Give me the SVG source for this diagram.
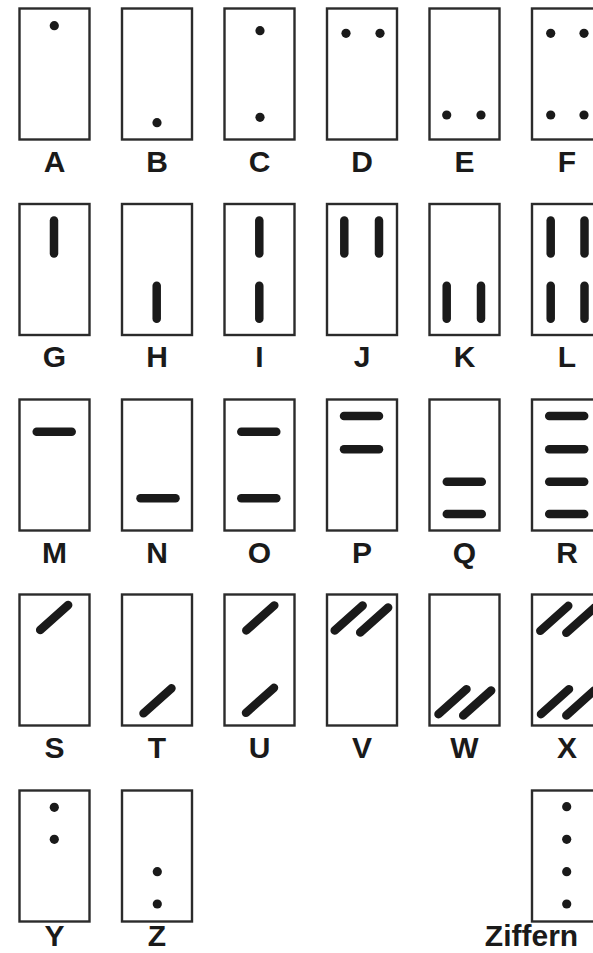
<svg xmlns="http://www.w3.org/2000/svg" width="593" height="953" viewBox="0 0 593 953">
<style>
.box{fill:#fff;stroke:#2b2b2b;stroke-width:2.4}
.dot{fill:#1a1a1a}
.bar{stroke:#1a1a1a;stroke-width:8.5;stroke-linecap:round;fill:none}
.lbl{font-family:"Liberation Sans",Arial,sans-serif;font-weight:bold;font-size:30px;fill:#1a1a1a;text-anchor:middle}
</style>
<defs>
<line id="vb" class="bar" x1="0" y1="-16.5" x2="0" y2="16.5"/>
<line id="hb" class="bar" x1="-17.5" y1="0" x2="17.5" y2="0"/>
<line id="db" class="bar" x1="-14" y1="12.5" x2="14" y2="-12.5"/>
</defs>
<rect width="593" height="953" fill="#fff"/>

<g id="A"><rect class="box" x="19.5" y="8.5" width="70" height="131"/><circle class="dot" cx="54.3" cy="25.7" r="4.6"/><text class="lbl" x="54.5" y="172">A</text></g>
<g id="B"><rect class="box" x="122" y="8.5" width="70" height="131"/><circle class="dot" cx="157" cy="122.7" r="4.6"/><text class="lbl" x="157" y="172">B</text></g>
<g id="C"><rect class="box" x="224.5" y="8.5" width="70" height="131"/><circle class="dot" cx="260" cy="30.7" r="4.6"/><circle class="dot" cx="260" cy="117.3" r="4.6"/><text class="lbl" x="259.5" y="172">C</text></g>
<g id="D"><rect class="box" x="327" y="8.5" width="70" height="131"/><circle class="dot" cx="346" cy="33.3" r="4.6"/><circle class="dot" cx="380" cy="33.3" r="4.6"/><text class="lbl" x="362" y="172">D</text></g>
<g id="E"><rect class="box" x="429.5" y="8.5" width="70" height="131"/><circle class="dot" cx="446.7" cy="115" r="4.6"/><circle class="dot" cx="481" cy="115" r="4.6"/><text class="lbl" x="464.5" y="172">E</text></g>
<g id="F"><rect class="box" x="532" y="8.5" width="70" height="131"/><circle class="dot" cx="550.7" cy="33.3" r="4.6"/><circle class="dot" cx="584" cy="33.3" r="4.6"/><circle class="dot" cx="550.7" cy="115" r="4.6"/><circle class="dot" cx="584" cy="115" r="4.6"/><text class="lbl" x="567" y="172">F</text></g>

<g id="G"><rect class="box" x="19.5" y="204" width="70" height="131"/><use href="#vb" x="54" y="237"/><text class="lbl" x="54.5" y="367">G</text></g>
<g id="H"><rect class="box" x="122" y="204" width="70" height="131"/><use href="#vb" x="156.7" y="302.2"/><text class="lbl" x="157" y="367">H</text></g>
<g id="I"><rect class="box" x="224.5" y="204" width="70" height="131"/><use href="#vb" x="259.3" y="237"/><use href="#vb" x="259.3" y="302.2"/><text class="lbl" x="259.5" y="367">I</text></g>
<g id="J"><rect class="box" x="327" y="204" width="70" height="131"/><use href="#vb" x="344.3" y="237"/><use href="#vb" x="379" y="237"/><text class="lbl" x="362" y="367">J</text></g>
<g id="K"><rect class="box" x="429.5" y="204" width="70" height="131"/><use href="#vb" x="446.7" y="302.2"/><use href="#vb" x="481" y="302.2"/><text class="lbl" x="464.5" y="367">K</text></g>
<g id="L"><rect class="box" x="532" y="204" width="70" height="131"/><use href="#vb" x="550.7" y="237"/><use href="#vb" x="584.5" y="237"/><use href="#vb" x="550.7" y="302.2"/><use href="#vb" x="584.5" y="302.2"/><text class="lbl" x="567" y="367">L</text></g>

<g id="M"><rect class="box" x="19.5" y="399.5" width="70" height="131"/><use href="#hb" x="54.2" y="431.7"/><text class="lbl" x="54.5" y="563">M</text></g>
<g id="N"><rect class="box" x="122" y="399.5" width="70" height="131"/><use href="#hb" x="158" y="498.3"/><text class="lbl" x="157" y="563">N</text></g>
<g id="O"><rect class="box" x="224.5" y="399.5" width="70" height="131"/><use href="#hb" x="258.8" y="431.7"/><use href="#hb" x="258.8" y="498.3"/><text class="lbl" x="259.5" y="563">O</text></g>
<g id="P"><rect class="box" x="327" y="399.5" width="70" height="131"/><use href="#hb" x="361.5" y="416"/><use href="#hb" x="361.5" y="449.3"/><text class="lbl" x="362" y="563">P</text></g>
<g id="Q"><rect class="box" x="429.5" y="399.5" width="70" height="131"/><use href="#hb" x="464.3" y="481.7"/><use href="#hb" x="464.3" y="514"/><text class="lbl" x="464.5" y="563">Q</text></g>
<g id="R"><rect class="box" x="532" y="399.5" width="70" height="131"/><use href="#hb" x="566.7" y="416"/><use href="#hb" x="566.7" y="449.3"/><use href="#hb" x="566.7" y="481.7"/><use href="#hb" x="566.7" y="514"/><text class="lbl" x="567" y="563">R</text></g>

<g id="S"><rect class="box" x="19.5" y="594.5" width="70" height="131"/><use href="#db" x="54.2" y="617.5"/><text class="lbl" x="54.5" y="758">S</text></g>
<g id="T"><rect class="box" x="122" y="594.5" width="70" height="131"/><use href="#db" x="157.5" y="700.8"/><text class="lbl" x="157" y="758">T</text></g>
<g id="U"><rect class="box" x="224.5" y="594.5" width="70" height="131"/><use href="#db" x="260.3" y="617.9"/><use href="#db" x="260" y="700.3"/><text class="lbl" x="259.5" y="758">U</text></g>
<g id="V"><rect class="box" x="327" y="594.5" width="70" height="131"/><use href="#db" x="348.7" y="618"/><use href="#db" x="374.2" y="620"/><text class="lbl" x="362" y="758">V</text></g>
<g id="W"><rect class="box" x="429.5" y="594.5" width="70" height="131"/><use href="#db" x="452.5" y="701.7"/><use href="#db" x="477.2" y="703"/><text class="lbl" x="464.5" y="758">W</text></g>
<g id="X"><rect class="box" x="532" y="594.5" width="70" height="131"/><use href="#db" x="554.3" y="618.3"/><use href="#db" x="580.3" y="620.3"/><use href="#db" x="555" y="701.7"/><use href="#db" x="580.3" y="703"/><text class="lbl" x="567" y="758">X</text></g>

<g id="Y"><rect class="box" x="19.5" y="790.5" width="70" height="131"/><circle class="dot" cx="54.3" cy="807.3" r="4.6"/><circle class="dot" cx="54.3" cy="839.3" r="4.6"/><text class="lbl" x="54.5" y="946">Y</text></g>
<g id="Z"><rect class="box" x="122" y="790.5" width="70" height="131"/><circle class="dot" cx="157.3" cy="871.7" r="4.6"/><circle class="dot" cx="157.3" cy="904" r="4.6"/><text class="lbl" x="157" y="946">Z</text></g>
<g id="Ziffern"><rect class="box" x="532" y="790.5" width="70" height="131"/><circle class="dot" cx="566.7" cy="806.7" r="4.6"/><circle class="dot" cx="566.7" cy="839.3" r="4.6"/><circle class="dot" cx="566.7" cy="871.7" r="4.6"/><circle class="dot" cx="566.7" cy="904" r="4.6"/><text class="lbl" x="531.5" y="946">Ziffern</text></g>
</svg>
